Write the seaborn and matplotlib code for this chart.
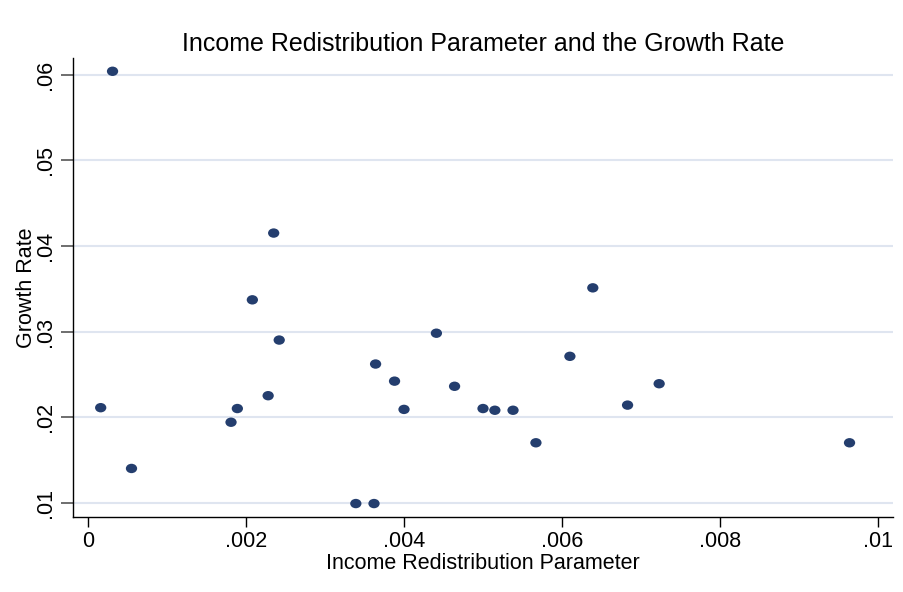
import pandas as pd
import matplotlib
matplotlib.use("Agg")
import matplotlib.pyplot as plt
from matplotlib.path import Path
from matplotlib.transforms import Affine2D
import seaborn as sns

# values
redistribution = [0.00016, 0.00031, 0.00055, 0.00181, 0.00189, 0.00208, 0.00228,
                  0.00235, 0.00242, 0.00339, 0.00362, 0.00364, 0.00388, 0.00400,
                  0.00441, 0.00464, 0.00500, 0.00515, 0.00538, 0.00567, 0.00610,
                  0.00639, 0.00683, 0.00723, 0.00964]
growth_rate = [0.0211, 0.0604, 0.0140, 0.0194, 0.0210, 0.0337, 0.0225,
               0.0415, 0.0290, 0.0099, 0.0099, 0.0262, 0.0242, 0.0209,
               0.0298, 0.0236, 0.0210, 0.0208, 0.0208, 0.0170, 0.0271,
               0.0351, 0.0214, 0.0239, 0.0170]
x_ticks = [0, 0.002, 0.004, 0.006, 0.008, 0.01]
x_labels = ["0", ".002", ".004", ".006", ".008", ".01"]
y_ticks = [0.01, 0.02, 0.03, 0.04, 0.05, 0.06]
y_labels = [".01", ".02", ".03", ".04", ".05", ".06"]

df = pd.DataFrame({"Income Redistribution Parameter": redistribution,
                   "Growth Rate": growth_rate})

sns.set_style("white")
plt.rcParams["font.family"] = ["Liberation Sans", "DejaVu Sans"]
plt.rcParams["text.color"] = "black"
plt.rcParams["axes.labelcolor"] = "black"
plt.rcParams["xtick.labelcolor"] = "black"
plt.rcParams["ytick.labelcolor"] = "black"

# slightly wide dots, like the stretched stata output
oval = Affine2D().scale(1.2, 1.0).transform_path(Path.unit_circle())

fig = plt.figure(figsize=(9.04, 5.92), dpi=100)
ax = fig.add_axes([0.0808, 0.1267, 0.907, 0.7753])

sns.scatterplot(data=df, x="Income Redistribution Parameter", y="Growth Rate",
                ax=ax, color="#243e6e", marker=oval, s=66, edgecolor="none",
                zorder=3)

ax.set_xlim(-0.00019, 0.01019)
ax.set_ylim(0.00833, 0.06195)
ax.set_xticks(x_ticks)
ax.set_xticklabels(x_labels, fontsize=15.5)
ax.set_yticks(y_ticks)
ax.set_yticklabels(y_labels, fontsize=15.5, rotation=90, va="center")

ax.yaxis.grid(True, color="#dfe5f0", linewidth=1.5, zorder=0)
ax.xaxis.grid(False)

for side in ["top", "right"]:
    ax.spines[side].set_visible(False)
for side in ["left", "bottom"]:
    ax.spines[side].set_color("black")
    ax.spines[side].set_linewidth(1.0)

ax.tick_params(axis="y", direction="out", length=9, width=1.2, color="#555555",
               left=True, pad=3)
ax.tick_params(axis="x", direction="out", length=7, width=1.0, color="black",
               bottom=True, pad=3)

ax.set_xlabel("Income Redistribution Parameter", fontsize=15.5, labelpad=1)
ax.set_ylabel("Growth Rate", fontsize=15.5, labelpad=-1)
ax.set_title("Income Redistribution Parameter and the Growth Rate",
             fontsize=18, pad=5)

fig.savefig("out.png", dpi=100, facecolor="white")
